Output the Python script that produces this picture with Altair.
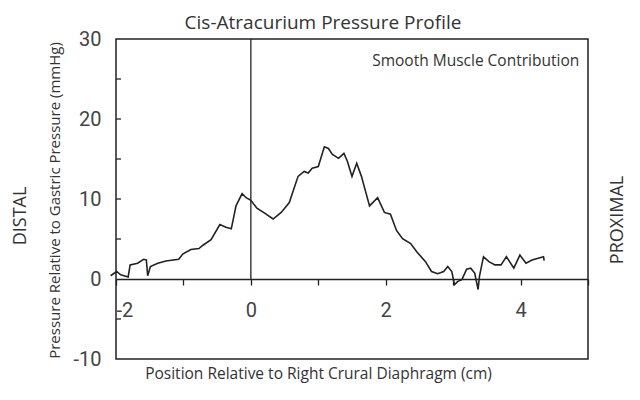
import altair as alt
import pandas as pd

# Trace of the pressure profile (position cm, pressure mmHg)
pos = [-2.08, -1.99, -1.93, -1.82, -1.79, -1.68, -1.59, -1.55, -1.53, -1.49, -1.38, -1.26,
       -1.07, -1.01, -0.89, -0.77, -0.71, -0.59, -0.46, -0.37, -0.29, -0.22, -0.13, -0.07,
       0.0, 0.09, 0.21, 0.33, 0.45, 0.57, 0.70, 0.79, 0.85, 0.91, 1.0, 1.09, 1.15, 1.21,
       1.30, 1.38, 1.43, 1.50, 1.57, 1.64, 1.70, 1.76, 1.88, 1.98, 2.07, 2.16, 2.25, 2.37,
       2.46, 2.59, 2.68, 2.77, 2.86, 2.92, 2.98, 3.02, 3.07, 3.13, 3.20, 3.26, 3.32, 3.37,
       3.39, 3.45, 3.53, 3.62, 3.71, 3.79, 3.90, 3.99, 4.08, 4.17, 4.34, 4.35]
pressure = [0.41, 0.94, 0.53, 0.25, 1.76, 1.97, 2.46, 2.38, 0.41, 1.56, 1.97, 2.25,
            2.46, 3.11, 3.69, 3.81, 4.22, 4.92, 6.80, 6.48, 6.27, 9.14, 10.66, 10.16,
            9.84, 8.85, 8.20, 7.50, 8.32, 9.55, 12.83, 13.44, 13.24, 13.85, 14.06, 16.52, 16.31, 15.57,
            15.08, 15.70, 14.75, 12.83, 14.47, 12.83, 10.98, 9.14, 10.16, 8.32, 8.11, 6.07, 5.04, 4.43,
            3.40, 2.17, 0.94, 0.66, 0.94, 1.56, 0.94, -0.70, -0.29, -0.08, 1.23, 1.35, 0.74, -1.31,
            0.33, 2.79, 2.17, 1.76, 1.76, 2.79, 1.35, 2.99, 1.97, 2.38, 2.79, 2.30]

x_tick_values = [-2, -1.5, -1, -0.5, 0, 0.5, 1, 1.5, 2, 2.5, 3, 3.5, 4, 4.5, 5]
y_label_values = [-10, 0, 10, 20, 30]
y_inner_ticks = [-5, 5, 10, 15, 20, 25]

W, H = 472, 320
LABEL_FONT = "Roboto"
FONT = "Open Sans"

df = pd.DataFrame({"x": pos, "y": pressure})

xs = alt.Scale(domain=[-2, 5], nice=False, zero=False)
ys = alt.Scale(domain=[-10, 30], nice=False, zero=False)

line = alt.Chart(df).mark_line(color="#222", strokeWidth=1.6).encode(
    x=alt.X("x:Q", scale=xs,
            axis=alt.Axis(values=x_tick_values, offset=-80, grid=False,
                          title="Position Relative to Right Crural Diaphragm (cm)",
                          titleFont=FONT, titleFontSize=15.5, titleFontWeight="normal",
                          titleColor="#333", titlePadding=46, titleX=202,
                          labelExpr="datum.value % 2 == 0 ? '' + datum.value : ''",
                          labelFont=LABEL_FONT, labelFontSize=20, labelColor="#444",
                          labelPadding=15, tickSize=6, tickColor="#222", tickWidth=1.3,
                          domainColor="#222", domainWidth=1.5)),
    y=alt.Y("y:Q", scale=ys,
            axis=alt.Axis(values=y_label_values, grid=False, ticks=False, domain=False,
                          title="Pressure Relative to Gastric Pressure (mmHg)",
                          titleFont=FONT, titleFontSize=15, titleFontWeight="normal",
                          titleColor="#333", titlePadding=10, titleY=161,
                          labelExpr="'' + datum.value",
                          labelFont=LABEL_FONT, labelFontSize=20, labelColor="#444",
                          labelPadding=15)),
)

vline = alt.Chart(pd.DataFrame({"x": [0], "y": [0], "y2": [30]})).mark_rule(
    color="#222", strokeWidth=1.3).encode(x=alt.X("x:Q", scale=xs), y=alt.Y("y:Q", scale=ys), y2="y2:Q")

yticks = alt.Chart(pd.DataFrame({"y": y_inner_ticks})).mark_rule(
    color="#222", strokeWidth=1.3).encode(y=alt.Y("y:Q", scale=ys), x=alt.value(0), x2=alt.value(5))

note = alt.Chart(pd.DataFrame({"x": [4.87], "y": [27.2], "t": ["Smooth Muscle Contribution"]})).mark_text(
    align="right", baseline="middle", font=FONT, fontSize=15.5, color="#333").encode(
    x=alt.X("x:Q", scale=xs), y=alt.Y("y:Q", scale=ys), text="t:N")

side = alt.Chart(pd.DataFrame({"t": ["DISTAL"]})).mark_text(
    angle=270, align="center", baseline="middle", font=FONT, fontSize=18, color="#333").encode(
    x=alt.value(-95), y=alt.value(177), text="t:N")

side2 = alt.Chart(pd.DataFrame({"t": ["PROXIMAL"]})).mark_text(
    angle=270, align="center", baseline="middle", font=FONT, fontSize=18, color="#333").encode(
    x=alt.value(502), y=alt.value(181), text="t:N")

chart = alt.layer(line, vline, yticks, note, side, side2).properties(
    width=W, height=H,
    title=alt.Title("Cis-Atracurium Pressure Profile", font=FONT, fontSize=19,
                    fontWeight="normal", color="#333", offset=11, dx=-29, dy=15, frame="group"),
    autosize=alt.AutoSizeParams(type="none"),
    padding={"left": 108, "top": 31, "right": 44, "bottom": 37},
).configure_view(stroke="#222", strokeWidth=1.5)

chart.save("out.html", embed_options={"renderer": "svg", "actions": False})
